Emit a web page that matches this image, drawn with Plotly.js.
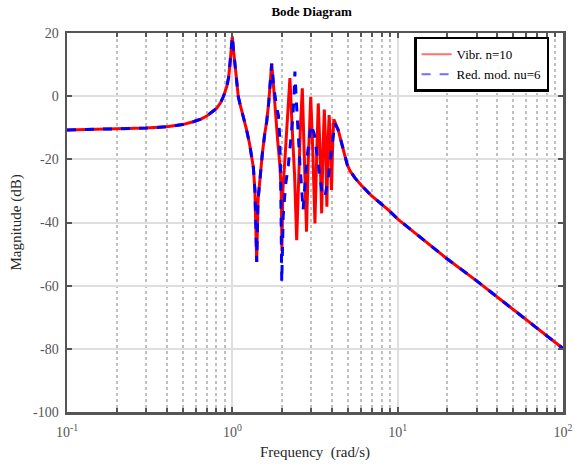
<!DOCTYPE html>
<html>
<head>
<meta charset="utf-8">
<script src="https://cdn.plot.ly/plotly-3.0.1.min.js"></script>
<style>html,body{margin:0;padding:0;background:#fff;}#plot{width:574px;height:466px;}</style>
</head>
<body>
<div id="plot"></div>
<script>
// Full model (Vibr. n=10): frequency (rad/s) and magnitude (dB)
const freqFull = [0.1,0.2,0.3,0.4,0.5,0.58,0.65,0.70,0.75,0.805,0.85,0.882,0.925,0.95,0.968,0.985,1.0,1.015,1.038,1.06,1.087,1.113,1.166,1.22,1.27,1.31,1.34,1.37,1.404,1.43,1.47,1.52,1.57,1.613,1.66,1.70,1.73,1.77,1.82,1.88,1.94,1.975,1.995,2.02,2.08,2.15,2.23,2.30,2.38,2.45,2.52,2.58,2.65,2.72,2.81,2.88,2.98,3.07,3.16,3.24,3.31,3.38,3.47,3.53,3.60,3.66,3.73,3.79,3.85,3.92,3.98,4.05,4.11,4.20,4.37,4.58,4.79,4.95,5.14,5.5,6.04,6.94,8.77,10.06,14.98,19.7,29.9,49.8,70,100];
const magFull  = [-10.7,-10.4,-10.1,-9.7,-9.0,-8.1,-7.2,-6.3,-5.2,-3.8,-2.0,-0.2,3.0,6.0,10.4,15.0,18.9,15.0,10.4,5.0,-0.2,-2.5,-6.5,-10.7,-15,-19,-22.5,-30,-52.5,-33,-25,-18,-12,-8.1,-2,4,10.3,4,-6,-14,-22,-30,-49,-30,-20,-8,5.7,-10,-25,-45.6,-25,-10,2.5,-15,-42.9,-20,-0.2,-18,-40.3,-18,-2.3,-15,-37.1,-18,-4.2,-15,-35,-15,-6.0,-15,-29.7,-14,-7.3,-8.5,-10.7,-14.9,-18.9,-21.6,-23.6,-25.8,-28.3,-31.5,-36.0,-39.0,-46.3,-51.3,-58.4,-67.6,-73.7,-79.9];

// Reduced model (Red. mod. nu=6)
const freqRed = [0.1,0.2,0.3,0.4,0.5,0.58,0.65,0.70,0.75,0.805,0.85,0.882,0.925,0.95,0.968,0.985,1.0,1.015,1.038,1.06,1.087,1.113,1.166,1.22,1.27,1.31,1.34,1.37,1.404,1.43,1.47,1.52,1.57,1.613,1.66,1.70,1.73,1.78,1.81,1.86,1.90,1.93,1.96,1.99,2.03,2.10,2.18,2.25,2.32,2.36,2.39,2.43,2.50,2.56,2.68,2.81,2.94,3.0,3.13,3.31,3.50,3.63,3.80,3.98,4.17,4.37,4.58,4.79,4.95,5.14,5.5,6.04,6.94,8.77,10.06,14.98,19.7,29.9,49.8,70,100];
const magRed  = [-10.7,-10.4,-10.1,-9.7,-9.0,-8.1,-7.2,-6.3,-5.2,-3.8,-2.0,-0.2,3.0,6.0,10.4,15.0,18.9,15.0,10.4,5.0,-0.2,-2.5,-6.5,-10.7,-15,-19,-22.5,-30,-52.5,-33,-25,-18,-12,-8.1,-2,4,10.3,3,0,-4,-6,-12,-25,-58.8,-38,-28,-22,-14,-7,0,7.8,0,-14,-21,-36,-21,-12,-9,-12,-21,-31,-32,-26,-17,-8.6,-10.7,-14.9,-18.9,-21.6,-23.6,-25.8,-28.3,-31.5,-36.0,-39.0,-46.3,-51.3,-58.4,-67.6,-73.7,-79.9];

const legendNames = ['Vibr. n=10', 'Red. mod. nu=6'];
const xTickVals = [0.1, 1, 10, 100];
const xTickText = ['10<sup>-1</sup>', '10<sup>0</sup>', '10<sup>1</sup>', '10<sup>2</sup>'];
const yTickVals = [-100, -80, -60, -40, -20, 0, 20];
const yTickText = ['-100', '-80', '-60', '-40', '-20', '0', '20'];

const serif = 'Liberation Serif';

const traces = [
  {x: freqFull, y: magFull, type: 'scatter', mode: 'lines', name: legendNames[0], showlegend: false,
   line: {color: '#ff0000', width: 3}},
  {x: freqRed, y: magRed, type: 'scatter', mode: 'lines', name: legendNames[1], showlegend: false,
   line: {color: '#0000ff', width: 3, dash: 'dash'}},
  {x: [null], y: [null], type: 'scatter', mode: 'lines', name: legendNames[0],
   line: {color: '#ff6f6f', width: 2}},
  {x: [null], y: [null], type: 'scatter', mode: 'lines', name: legendNames[1],
   line: {color: '#6f6fff', width: 2, dash: 'dash'}}
];

const layout = {
  width: 574, height: 466,
  margin: {l: 67, r: 11, t: 33, b: 54},
  paper_bgcolor: '#fff', plot_bgcolor: '#fff',
  title: {text: '<b>Bode Diagram</b>', font: {family: serif, size: 13, color: '#000'}, x: 0.543, xanchor: 'center', y: 0.975, yanchor: 'middle'},
  showlegend: true,
  legend: {x: 0.972, xanchor: 'right', y: 0.99, yanchor: 'top', bgcolor: '#fff', bordercolor: '#000', borderwidth: 2.5,
           font: {family: serif, size: 13, color: '#000'}, tracegroupgap: 0},
  xaxis: {
    type: 'log', range: [-1, 2], tickvals: xTickVals, ticktext: xTickText,
    ticks: 'inside', ticklen: 5, tickwidth: 2, tickcolor: '#555',
    showline: true, linecolor: '#555', linewidth: 2.5, mirror: 'allticks',
    showgrid: true, gridcolor: '#dedede', gridwidth: 2,
    minor: {dtick: 'D1', ticks: 'inside', ticklen: 4, tickwidth: 2, tickcolor: '#555', showgrid: true, gridcolor: '#c0c0c0', griddash: 'dot', gridwidth: 2},
    tickfont: {family: serif, size: 14, color: '#555'},
    ticklabelstandoff: 6,
    title: {text: 'Frequency  (rad/s)', font: {family: serif, size: 15, color: '#262626'}, standoff: 7},
    zeroline: false
  },
  yaxis: {
    range: [-100, 20], tickvals: yTickVals, ticktext: yTickText,
    ticks: 'inside', ticklen: 5, tickwidth: 2, tickcolor: '#555',
    showline: true, linecolor: '#555', linewidth: 2.5, mirror: 'allticks',
    showgrid: true, gridcolor: '#dedede', gridwidth: 2,
    tickfont: {family: serif, size: 14, color: '#555'},
    ticklabelstandoff: 3,
    title: {text: 'Magnitude (dB)', font: {family: serif, size: 15, color: '#262626'}, standoff: 8},
    zeroline: false
  }
};

Plotly.newPlot('plot', traces, layout, {displayModeBar: false, staticPlot: true});
</script>
</body>
</html>
